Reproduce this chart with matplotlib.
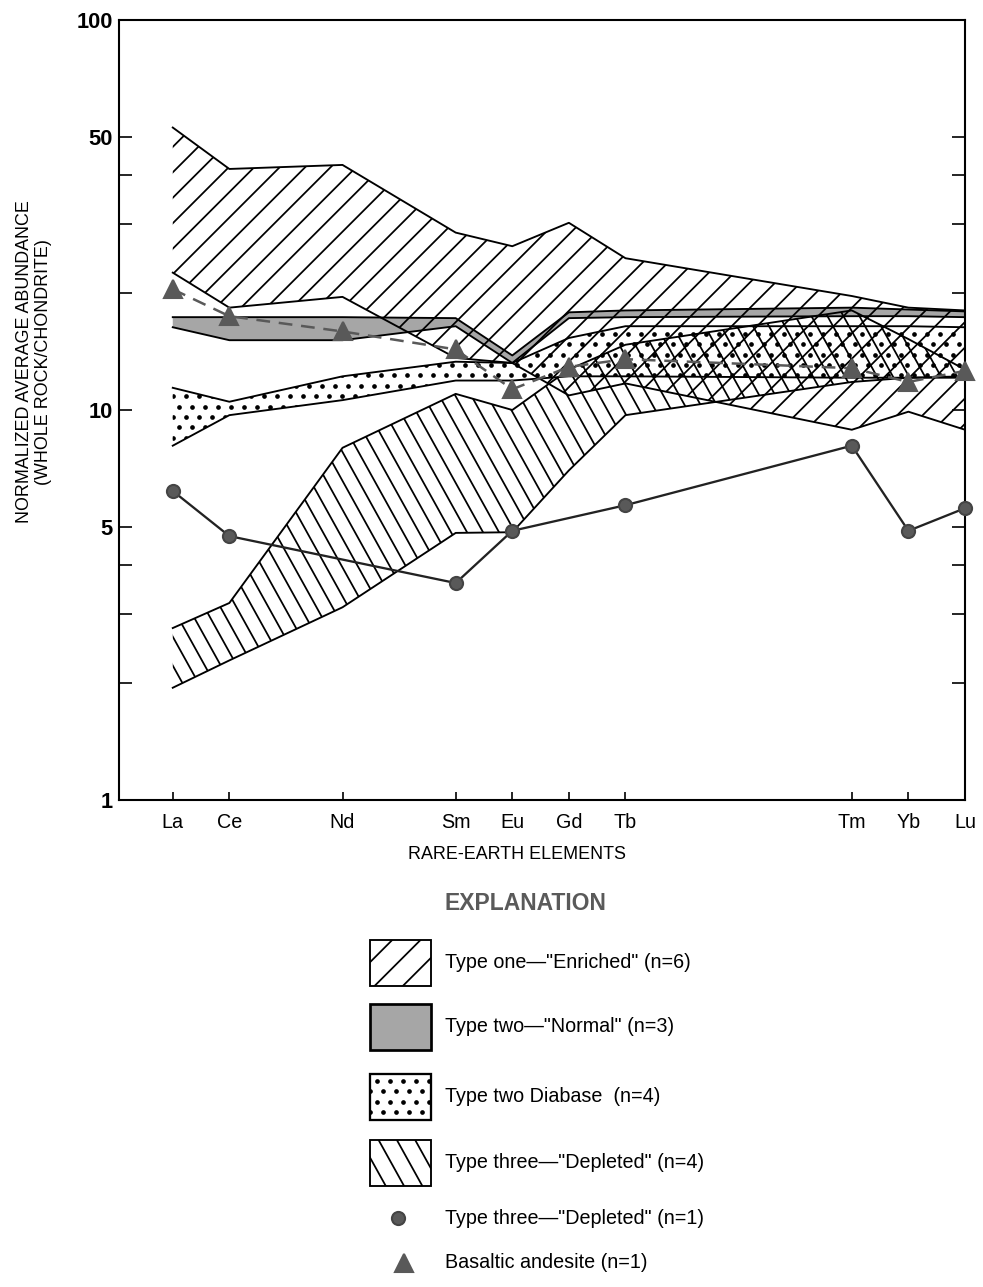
import numpy as np
import matplotlib.pyplot as plt
from matplotlib.collections import LineCollection
from matplotlib.patches import Polygon, Rectangle
from matplotlib.ticker import FixedLocator, FixedFormatter, NullFormatter
from matplotlib.transforms import IdentityTransform

plt.rcParams['font.family'] = ['Liberation Sans', 'DejaVu Sans']

# -------------------------
# data (chondrite-normalized REE)
# -------------------------
elements = ["La", "Ce", "Nd", "Sm", "Eu", "Gd", "Tb", "Tm", "Yb", "Lu"]
atomic_no = [57, 58, 60, 62, 63, 64, 65, 69, 70, 71]

enriched_hi = [53, 41.5, 42.5, 28.5, 26.3, 30.2, 24.5, 19.6, 18.3, 18.0]
enriched_lo = [22.5, 18.3, 19.5, 13.6, 13.2, 10.9, 11.7, 8.9, 9.9, 8.9]

normal_hi = [17.3, 17.3, 17.3, 17.2, 13.8, 17.8, 18.0, 18.3, 18.1, 17.9]
normal_lo = [16.3, 15.1, 15.1, 16.4, 13.2, 17.2, 17.3, 17.4, 17.4, 17.3]

diabase_hi = [11.4, 10.5, 12.2, 13.3, 13.2, 15.3, 16.4, 16.4, 16.4, 16.3]
diabase_lo = [8.1, 9.7, 10.6, 11.9, 11.9, 12.2, 12.2, 12.1, 12.1, 12.1]

depleted_hi = [2.76, 3.2, 8.0, 11.0, 10.0, 12.7, 14.7, 18.0, 15.2, 12.7]
depleted_lo = [1.94, 2.28, 3.12, 4.84, 4.86, 7.0, 9.7, 11.8, 12.1, 12.2]

andesite = [20.4, 17.4, 15.9, 14.3, 11.3, 12.9, 13.5, 12.8, 11.8, 12.6]

dep1_no = [57, 58, 62, 63, 65, 69, 70, 71]
dep1 = [6.2, 4.75, 3.6, 4.9, 5.7, 8.1, 4.9, 5.6]

legend_labels = [
    'Type one\u2014"Enriched" (n=6)',
    'Type two\u2014"Normal" (n=3)',
    'Type two Diabase  (n=4)',
    'Type three\u2014"Depleted" (n=4)',
    'Type three\u2014"Depleted" (n=1)',
    'Basaltic andesite (n=1)',
]

DPI = 150
W, H = 983, 1287
fig = plt.figure(figsize=(W / DPI, H / DPI), dpi=DPI)
ax = fig.add_axes([119 / W, 1 - 800 / H, (965 - 119) / W, (800 - 20) / H])
ax.set_yscale("log")
ax.set_xlim(56.05, 71)
ax.set_ylim(1, 100)

GRAY = "#a6a6a6"
MARK = "#595959"


def hatch(a, patch, angle, gap, lw=0.85):
    # straight hatch lines in pixel space, clipped to the patch
    t = np.deg2rad(angle)
    d = np.array([np.cos(t), np.sin(t)])
    n = np.array([-np.sin(t), np.cos(t)])
    L = np.hypot(W, H)
    c = np.array([W / 2, H / 2])
    segs = [[c + o * n - L * d, c + o * n + L * d] for o in np.arange(-L, L, gap)]
    lc = LineCollection(segs, colors="k", linewidths=lw, transform=IdentityTransform(), zorder=2)
    a.add_collection(lc, autolim=False)
    lc.set_clip_path(patch)


def stipple(a, patch, gap=13, ms=1.25):
    ext = patch.get_window_extent()
    ys = np.arange(ext.y0 - gap, ext.y1 + gap, gap * 0.8)
    px, py = [], []
    for i, yy in enumerate(ys):
        xs = np.arange(ext.x0 - gap, ext.x1 + gap, gap) + (gap / 2) * (i % 2)
        px.extend(xs)
        py.extend([yy] * len(xs))
    ln, = a.plot(px, py, "o", ms=ms, color="k", mec="k", transform=IdentityTransform(), zorder=2.5)
    ln.set_clip_path(patch)


def band(lo, hi, **kw):
    verts = np.column_stack([np.r_[atomic_no, atomic_no[::-1]], np.r_[hi, lo[::-1]]])
    p = Polygon(verts, closed=True, transform=ax.transData, lw=0, **kw)
    ax.add_patch(p)
    return p


p_norm = band(normal_lo, normal_hi, facecolor=GRAY, zorder=1)
p_enr = band(enriched_lo, enriched_hi, facecolor="none", zorder=1)
p_dia = band(diabase_lo, diabase_hi, facecolor="none", zorder=1)
p_dep = band(depleted_lo, depleted_hi, facecolor="none", zorder=1)

hatch(ax, p_enr, 45, 18)
hatch(ax, p_dep, -61, 14)
stipple(ax, p_dia)

for lo, hi in [(enriched_lo, enriched_hi), (normal_lo, normal_hi),
               (diabase_lo, diabase_hi), (depleted_lo, depleted_hi)]:
    ax.plot(atomic_no, hi, color="k", lw=0.9, zorder=3)
    ax.plot(atomic_no, lo, color="k", lw=0.9, zorder=3)

ax.plot(atomic_no, andesite, color=MARK, lw=1.2, dashes=(5.5, 3.5), marker="^",
        ms=8.5, mfc=MARK, mec=MARK, zorder=4, clip_on=False)
ax.plot(dep1_no, dep1, color="#222222", lw=1.1, marker="o", ms=6.3,
        mfc=MARK, mec="#444444", zorder=4, clip_on=False)

# axes styling
for s in ax.spines.values():
    s.set_linewidth(1.0)
ax.yaxis.set_major_locator(FixedLocator([1, 5, 10, 50, 100]))
ax.yaxis.set_major_formatter(FixedFormatter(["1", "5", "10", "50", "100"]))
ax.yaxis.set_minor_locator(FixedLocator([2, 3, 4, 20, 30, 40]))
ax.yaxis.set_minor_formatter(NullFormatter())
ax.tick_params(axis="y", which="both", direction="in", left=True, right=True,
               length=6.3, width=0.8, pad=3)
for lbl in ax.get_yticklabels():
    lbl.set_fontweight("bold")
    lbl.set_fontsize(10.5)
ax.set_xticks(atomic_no, elements)
ax.tick_params(axis="x", direction="in", length=4, width=0.8, labelsize=9.5, pad=6)

ax.set_xlabel("RARE-EARTH ELEMENTS", fontsize=8.6)
ax.xaxis.set_label_coords((517 - 119) / 846, -(846 - 800) / 780)
ax.set_ylabel("NORMALIZED AVERAGE ABUNDANCE\n(WHOLE ROCK/CHONDRITE)", fontsize=8.6,
              linespacing=1.15)
ax.yaxis.set_label_coords((52 - 119) / 846, (800 - 362) / 780)

# -------------------------
# explanation
# -------------------------
lax = fig.add_axes([0, 0, 1, 1])
lax.set_xlim(0, W)
lax.set_ylim(H, 0)
lax.axis("off")

lax.text(525, 904, "EXPLANATION", ha="center", va="center", fontsize=11,
         fontweight="bold", color="#5a5a5a")

boxes = [(940, 46), (1004, 46), (1074, 46), (1140, 46)]
r0 = Rectangle((370, boxes[0][0]), 61, boxes[0][1], fc="none", ec="k", lw=0.9)
r1 = Rectangle((370, boxes[1][0]), 61, boxes[1][1], fc=GRAY, ec="k", lw=1.3)
r2 = Rectangle((370, boxes[2][0]), 61, boxes[2][1], fc="none", ec="k", lw=1.1)
r3 = Rectangle((370, boxes[3][0]), 61, boxes[3][1], fc="none", ec="k", lw=0.9)
for r in (r0, r1, r2, r3):
    r.set_zorder(3)
    lax.add_patch(r)
hatch(lax, r0, 45, 20)
stipple(lax, r2, gap=13)
hatch(lax, r3, -61, 16)

lax.plot([398], [1218], "o", ms=6.3, mfc=MARK, mec="#444444")
lax.plot([404], [1263], "^", ms=8.5, mfc=MARK, mec=MARK)

label_y = [963, 1027, 1097, 1163, 1218, 1263]
for yy, lab in zip(label_y, legend_labels):
    lax.text(445, yy, lab, va="center", ha="left", fontsize=9.5)

fig.savefig("out.png", dpi=DPI)
